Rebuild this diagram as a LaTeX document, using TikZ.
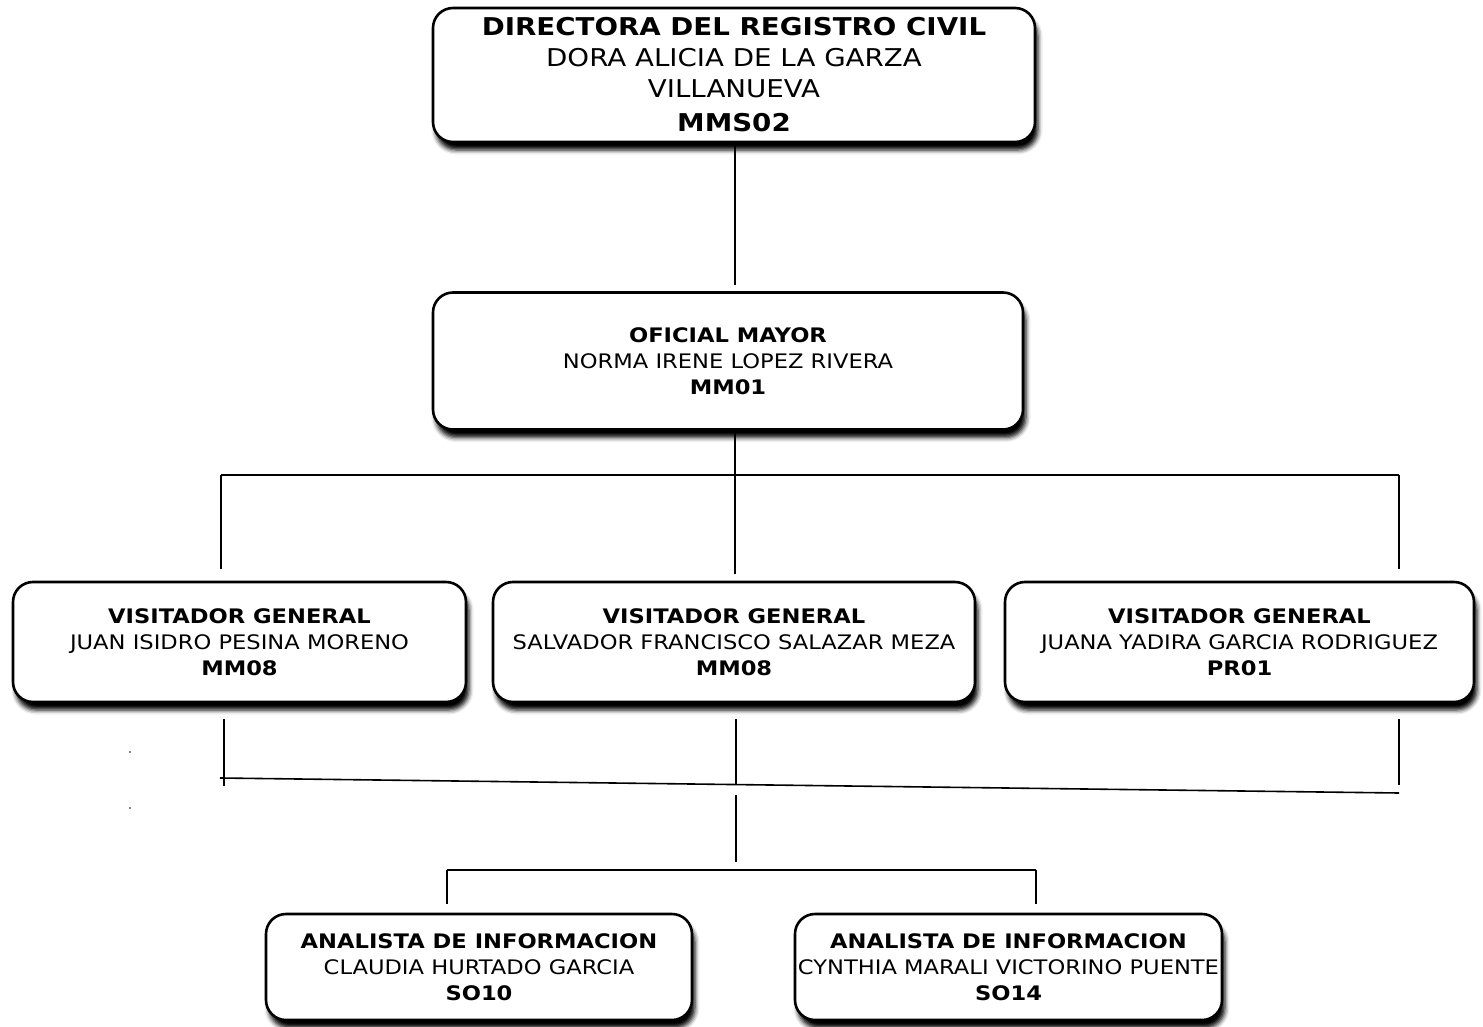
\documentclass[tikz,border=0pt]{standalone}
\usepackage{fontspec}
\setmainfont{DejaVu Sans}[FakeStretch=1.13]
\usetikzlibrary{shadows.blur}
\begin{document}
\begin{tikzpicture}[x=1pt,y=-1pt,
  box/.style={draw=black, line width=2.6pt, fill=white, rounded corners=20pt,
    align=center, inner sep=0pt,
    blur shadow={shadow xshift=3pt, shadow yshift=-8pt, shadow blur radius=4.5pt, shadow opacity=100}},
  bigtxt/.style={font=\fontsize{24.5}{31}\selectfont},
  smtxt/.style={font=\fontsize{20}{26}\selectfont},
  conn/.style={line width=1.6pt, black}]
\useasboundingbox (0,0) rectangle (1483,1027);
\node[box, bigtxt, minimum width=602pt, minimum height=134pt] (top) at (734,75)
  {\textbf{DIRECTORA DEL REGISTRO CIVIL}\\DORA ALICIA DE LA GARZA\\VILLANUEVA\\[3pt]\textbf{MMS02}};
\node[box, smtxt, minimum width=590pt, minimum height=137pt] (off) at (728,361)
  {\textbf{OFICIAL MAYOR}\\NORMA IRENE LOPEZ RIVERA\\\textbf{MM01}};
\node[box, smtxt, minimum width=453pt, minimum height=120pt] (v1) at (239.5,642)
  {\textbf{VISITADOR GENERAL}\\JUAN ISIDRO PESINA MORENO\\\textbf{MM08}};
\node[box, smtxt, minimum width=482pt, minimum height=120pt] (v2) at (734,642)
  {\textbf{VISITADOR GENERAL}\\SALVADOR FRANCISCO SALAZAR MEZA\\\textbf{MM08}};
\node[box, smtxt, minimum width=469pt, minimum height=120pt] (v3) at (1239.5,642)
  {\textbf{VISITADOR GENERAL}\\JUANA YADIRA GARCIA RODRIGUEZ\\\textbf{PR01}};
\node[box, smtxt, minimum width=426pt, minimum height=106pt] (a1) at (479,967)
  {\textbf{ANALISTA DE INFORMACION}\\CLAUDIA HURTADO GARCIA\\\textbf{SO10}};
\node[box, smtxt, minimum width=427pt, minimum height=106pt] (a2) at (1008.5,967)
  {\textbf{ANALISTA DE INFORMACION}\\CYNTHIA MARALI VICTORINO PUENTE\\\textbf{SO14}};
% junctions
\coordinate (j1) at (735,475);
\coordinate (h1) at (221,475);
\coordinate (h3) at (1399,475);
\coordinate (s1) at (220,778);
\coordinate (s3) at (1399,793);
\coordinate (d1) at (224,786);
\coordinate (d2) at (736,785);
\coordinate (d3) at (1399,785);
\coordinate (m1) at (736,795);
\coordinate (m2) at (736,862);
\coordinate (k1) at (447,870);
\coordinate (k2) at (1036,870);
% connectors
\draw[conn, shorten >=6pt] (j1 |- top.south) -- (j1 |- off.north);
\draw[conn] (j1 |- off.south) -- (j1);
\draw[conn] (h1) -- (h3);
\draw[conn, shorten >=12pt] (h1) -- (h1 |- v1.north);
\draw[conn, shorten >=7pt] (j1) -- (j1 |- v2.north);
\draw[conn, shorten >=12pt] (h3) -- (h3 |- v3.north);
\draw[conn, shorten <=16pt] (d1 |- v1.south) -- (d1);
\draw[conn, shorten <=16pt] (d2 |- v2.south) -- (d2);
\draw[conn, shorten <=16pt] (d3 |- v3.south) -- (d3);
\draw[conn] (s1) -- (s3);
\draw[conn] (m1) -- (m2);
\draw[conn] (k1) -- (k2);
\draw[conn, shorten >=9pt] (k1) -- (k1 |- a1.north);
\draw[conn, shorten >=9pt] (k2) -- (k2 |- a2.north);
\fill (130,752) circle (0.8pt);
\fill (130,808) circle (0.8pt);
\end{tikzpicture}
\end{document}
